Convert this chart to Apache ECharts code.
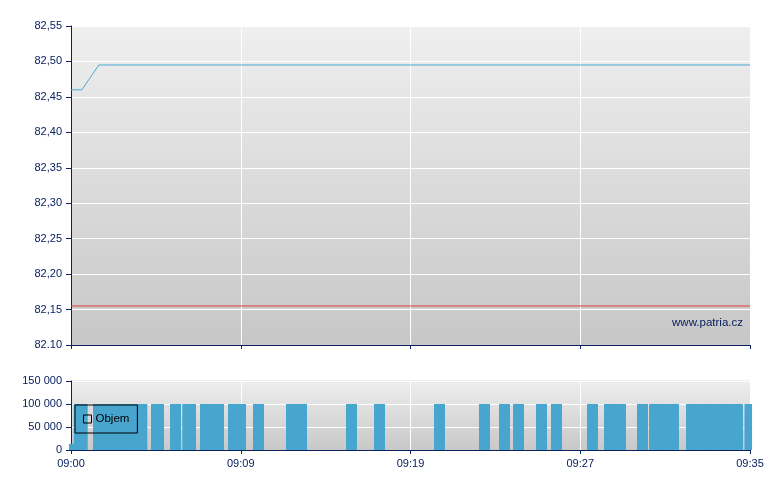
<!DOCTYPE html>
<html>
<head>
<meta charset="utf-8">
<script src="https://cdn.jsdelivr.net/npm/echarts@6/dist/echarts.min.js"></script>
<style>html,body{margin:0;padding:0;background:#fff}#c{width:780px;height:490px}</style>
</head>
<body>
<div id="c"></div>
<script>
// x positions are a trade-index scale 0..100; labels at every quarter
const xTimeLabels = ['09:00', '09:09', '09:19', '09:27', '09:35'];
const priceX = [0, 1.6, 4.1, 100];
const priceY = [82.46, 82.46, 82.495, 82.495];
const prevClose = 82.155;
const priceTickLabels = ['82.10', '82,15', '82,20', '82,25', '82,30', '82,35', '82,40', '82,45', '82,50', '82,55'];
const volX = [0, 1.21, 1.65, 4.05, 5.33, 6.6, 7.89, 9.15, 10.43, 12.59, 12.89, 15.39, 17.2, 17.6,
  19.81, 20.77, 21.72, 23.93, 24.96, 27.61, 32.47, 33.2, 33.95, 41.31, 45.43, 54.27, 60.9, 63.84,
  65.91, 69.29, 71.5, 76.8, 79.31, 80.12, 80.93, 84.17, 85.94, 87.33, 88.73, 91.38, 92.74, 94.09,
  95.45, 96.8, 98.16, 100];
const volY = [13500, 100000, 100000, 100000, 100000, 100000, 100000, 100000, 100000, 100000,
  100000, 100000, 100000, 100000, 100000, 100000, 100000, 100000, 100000, 100000, 100000,
  100000, 100000, 100000, 100000, 100000, 100000, 100000, 100000, 100000, 100000, 100000,
  100000, 100000, 100000, 100000, 100000, 100000, 100000, 100000, 100000, 100000, 100000,
  100000, 100000, 100000];
const volTickLabels = ['0', '50 000', '100 000', '150 000'];

const navy = '#0b2160';
const font = 'Liberation Sans, Arial, sans-serif';
const bg = (top, bottom) => new echarts.graphic.LinearGradient(0, 0, 0, 1, [
  { offset: 0, color: top }, { offset: 1, color: bottom }]);

const chart = echarts.init(document.getElementById('c'), null, { renderer: 'canvas' });
chart.setOption({
  animation: false,
  backgroundColor: '#ffffff',
  textStyle: { fontFamily: font },
  graphic: [
    { type: 'rect', left: 71, top: 380, z: -1, shape: { width: 679, height: 1 }, style: { fill: '#efefef' } },
    { type: 'text', right: 37, top: 317, style: { text: 'www.patria.cz', fill: navy, font: '11.5px ' + font } }
  ],
  grid: [
    { left: 71, right: 30, top: 26, height: 319, show: true, borderWidth: 0, backgroundColor: bg('#efefef', '#c7c7c7') },
    { left: 71, right: 30, top: 381, height: 69, show: true, borderWidth: 0, backgroundColor: bg('#eeeeee', '#c8c8c8') }
  ],
  xAxis: [
    { type: 'value', gridIndex: 0, min: 0, max: 100, interval: 25,
      axisLine: { show: true, onZero: false, lineStyle: { color: navy, width: 1 } },
      axisTick: { show: true, length: 4, lineStyle: { color: navy } },
      axisLabel: { show: false },
      splitLine: { show: true, showMinLine: false, showMaxLine: false, lineStyle: { color: '#ffffff', width: 1 } } },
    { type: 'value', gridIndex: 1, min: 0, max: 100, interval: 25,
      axisLine: { show: true, onZero: false, lineStyle: { color: navy, width: 1 } },
      axisTick: { show: true, length: 4, lineStyle: { color: navy } },
      axisLabel: { show: true, color: navy, fontSize: 11, fontFamily: font, margin: 8,
        formatter: v => xTimeLabels[Math.round(v / 25)] },
      splitLine: { show: true, showMinLine: false, showMaxLine: false, lineStyle: { color: '#ffffff', width: 1 } } }
  ],
  yAxis: [
    { type: 'value', gridIndex: 0, min: 82.10, max: 82.55, interval: 0.05,
      axisLine: { show: true, onZero: false, lineStyle: { color: navy, width: 1 } },
      axisTick: { show: true, length: 5, lineStyle: { color: navy } },
      axisLabel: { color: navy, fontSize: 11, fontFamily: font, margin: 9,
        formatter: v => priceTickLabels[Math.round((v - 82.10) / 0.05)] },
      splitLine: { show: true, showMinLine: false, lineStyle: { color: '#ffffff', width: 1 } } },
    { type: 'value', gridIndex: 1, min: 0, max: 150000, interval: 50000,
      axisLine: { show: true, onZero: false, lineStyle: { color: navy, width: 1 } },
      axisTick: { show: true, length: 5, lineStyle: { color: navy } },
      axisLabel: { color: navy, fontSize: 11, fontFamily: font, margin: 9,
        formatter: v => volTickLabels[Math.round(v / 50000)] },
      splitLine: { show: true, showMinLine: false, lineStyle: { color: '#ffffff', width: 1 } } }
  ],
  legend: {
    show: true, left: 75, top: 405, orient: 'horizontal',
    data: [{ name: 'Objem', icon: 'rect', itemStyle: { color: 'rgba(0,0,0,0)', borderColor: '#000000', borderWidth: 1 } }],
    itemWidth: 8, itemHeight: 8, itemGap: 4,
    padding: [7, 8, 7, 8],
    borderColor: '#000000', borderWidth: 1, backgroundColor: 'rgba(0,0,0,0)',
    textStyle: { color: '#000000', fontSize: 11.5, fontFamily: font, lineHeight: 14, padding: [0, 0, 0, -1] }
  },
  series: [
    { name: 'Cena', type: 'line', xAxisIndex: 0, yAxisIndex: 0, symbol: 'none',
      lineStyle: { color: '#4ea9d6', width: 1 },
      data: priceX.map((x, i) => [x, priceY[i]]) },
    { name: 'Předchozí', type: 'line', xAxisIndex: 0, yAxisIndex: 0, symbol: 'none',
      lineStyle: { color: '#e03a3a', width: 1 },
      data: [[0, prevClose], [100, prevClose]] },
    { name: 'Objem', type: 'bar', xAxisIndex: 1, yAxisIndex: 1, barWidth: 11, clip: true,
      itemStyle: { color: '#47a5ce', borderWidth: 0 },
      data: volX.map((x, i) => [x, volY[i]]) }
  ]
});
</script>
</body>
</html>
